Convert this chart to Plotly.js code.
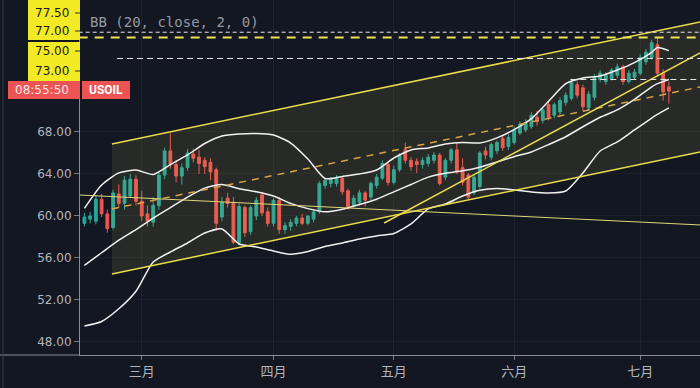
<!DOCTYPE html>
<html><head><meta charset="utf-8">
<script src="https://cdn.plot.ly/plotly-3.0.1.min.js"></script>
<style>html,body{margin:0;padding:0;background:#131722;}#chart{width:700px;height:388px;}</style>
</head><body><div id="chart"></div>
<script>
// ---- data ----
const open  = [59.3,59.7,59.5,61.6,60.2,58.9,62.1,61.2,61.9,63.5,61.4,60.2,59.4,61.0,63.9,66.2,64.9,63.8,64.6,65.9,
               65.6,65.3,65.1,64.4,59.9,61.7,61.3,57.5,60.8,58.5,60.0,62.0,60.4,59.3,61.5,58.7,59.0,59.3,59.8,59.3,
               59.7,60.4,62.9,63.1,63.1,63.6,62.4,61.0,61.3,62.2,61.8,62.9,63.6,64.9,63.2,64.4,66.3,65.3,65.2,64.9,
               65.0,65.3,65.8,63.7,65.3,66.3,64.6,63.9,62.2,62.8,66.2,65.6,66.2,67.4,66.6,67.0,67.9,68.2,68.5,69.4,
               69.1,70.6,69.6,69.9,70.8,71.2,72.5,72.2,70.3,71.3,73.0,72.8,73.1,73.4,74.2,72.8,73.2,73.6,74.7,75.1,
               76.3,73.6,72.3];
const high  = [60.3,60.4,62.0,62.1,60.6,62.5,63.0,63.8,64.0,63.9,62.4,61.0,61.8,64.2,66.5,67.9,65.3,65.0,66.4,66.4,
               66.3,65.6,65.5,64.6,61.8,62.2,61.8,61.2,61.0,61.0,61.8,62.3,60.8,61.7,61.8,59.4,59.7,60.0,60.2,60.1,
               60.6,63.3,63.6,63.7,63.9,63.8,62.6,62.0,62.5,62.4,63.3,64.0,65.3,65.1,64.8,66.0,67.0,65.6,65.5,65.6,
               65.9,66.1,66.0,65.5,66.5,67.0,65.5,64.1,64.0,66.2,66.6,67.0,67.2,67.6,67.8,68.5,69.0,69.2,69.9,70.0,
               70.3,71.0,70.8,71.3,71.8,72.9,72.8,72.5,71.9,73.5,73.9,73.7,74.1,74.5,74.4,73.9,74.0,75.4,75.9,76.8,
               77.0,74.0,72.8];
const low   = [59.0,59.3,59.2,59.9,58.4,58.7,60.8,60.6,61.7,61.0,59.5,59.0,59.0,60.6,63.5,64.5,63.2,63.0,64.3,65.1,
               64.0,64.0,63.4,58.6,59.5,60.8,57.3,57.2,58.0,58.2,59.6,60.0,59.0,59.0,58.3,58.3,58.6,59.0,59.1,59.1,
               59.4,60.2,62.6,62.7,62.8,62.0,60.6,60.8,61.0,60.9,61.5,62.6,63.4,62.9,63.0,64.2,65.0,64.3,64.1,64.5,
               64.7,65.0,62.9,63.4,65.0,64.0,62.9,61.6,62.0,62.6,65.4,65.3,65.9,66.2,66.3,66.8,67.7,68.0,68.3,68.6,
               68.8,69.1,69.3,69.6,70.5,71.0,71.2,70.0,70.0,71.0,72.7,72.5,72.9,73.1,72.5,72.6,73.0,73.4,74.4,74.9,
               73.3,71.0,70.7];
const close = [59.9,60.0,61.6,60.2,58.8,62.2,61.2,63.4,63.5,61.4,60.0,59.5,61.0,63.9,66.2,64.9,63.8,64.6,66.0,65.5,
               65.0,64.7,64.2,59.3,61.3,61.2,57.5,60.9,58.4,60.8,61.5,60.3,59.3,61.5,58.7,59.1,59.4,59.8,59.3,60.0,
               60.4,63.1,63.4,63.6,63.6,62.3,60.9,61.7,62.2,61.5,63.1,63.7,65.0,63.2,64.4,65.8,65.3,64.7,64.9,65.3,
               65.6,65.8,63.1,65.3,66.3,64.2,63.2,61.8,63.7,66.0,65.8,66.8,67.0,66.5,67.5,68.2,68.7,68.9,69.6,69.0,
               70.1,69.4,70.6,71.0,71.5,72.7,71.5,70.4,71.6,73.2,73.6,73.4,73.9,74.2,72.8,73.6,73.7,75.1,75.6,76.5,
               73.6,71.8,71.9];

const monthTickIdx = [10, 33, 54, 75, 97];
const monthLabels  = ['三月','四月','五月','六月','七月'];
const priceTicks   = [48, 52, 56, 60, 64, 68];

const bbIdx    = [0,3,6,9,12,15,18,21,24,27,30,33,36,39,42,45,48,51,54,57,60,63,66,69,72,75,78,81,84,87,90,93,96,99,100,102];
const bbUpper  = [60.72,62.95,64.10,64.38,63.95,64.89,65.81,66.90,67.62,67.81,67.86,67.71,66.95,65.43,63.57,63.77,64.00,64.38,
                  65.52,66.29,66.48,66.86,67.00,66.95,67.44,68.23,69.27,70.92,72.60,73.14,73.33,73.90,74.61,75.59,76.05,75.75];
const bbMiddle = [55.3,56.5,57.7,58.7,59.8,60.8,61.8,62.65,63.0,62.6,62.3,61.9,61.2,60.7,60.4,60.65,61.1,61.6,
                  62.3,63.0,63.7,64.07,64.3,64.65,65.15,65.65,66.1,66.8,67.55,68.5,69.4,70.1,71.1,72.3,72.6,73.0];
const bbLower  = [49.52,49.95,51.16,52.83,55.62,56.57,57.43,58.38,58.76,57.33,57.05,56.67,56.35,56.61,57.10,57.43,57.81,58.10,
                  58.33,59.24,60.67,61.14,61.9,62.45,62.62,62.48,62.29,62.19,62.38,64.10,66.19,67.05,68.19,69.33,69.67,70.29];

const channelX      = [4.8, 107.43];
const channelTop    = [66.86, 78.48];
const channelMid    = [60.67, 72.29];
const channelBottom = [54.48, 66.10];
const trendDownX = [-1, 108],    trendDownY = [62.0, 59.13];
const trendUpX   = [52.3, 107.43], trendUpY = [59.33, 75.52];

const levelPrices   = [77.5, 77.0, 75.0, 73.0];
const levelLabels   = ['77.50', '77.00', '75.00', '73.00'];
const levelStartIdx = [-1, -1, 5.7, 84.8];
const lastTime   = '08:55:50';
const symbolName = 'USOIL';
const indicatorName = 'BB (20, close, 2, 0)';

// ---- drawing ----
const barIdx = open.map((_, i) => i);
const X_END = 107.43;
const GREEN = '#26a69a', RED = '#ef5350', YEL = '#e9dc4c';

const traces = [];
traces.push({x:[channelX[0],channelX[1],channelX[1],channelX[0]], y:[channelTop[0],channelTop[1],channelBottom[1],channelBottom[0]],
  type:'scatter', mode:'lines', fill:'toself', fillcolor:'rgba(190,180,80,0.12)', line:{width:0}, hoverinfo:'skip'});
traces.push({type:'candlestick', x:barIdx, open:open, high:high, low:low, close:close, whiskerwidth:0,
  increasing:{line:{color:GREEN,width:1}, fillcolor:GREEN}, decreasing:{line:{color:RED,width:1}, fillcolor:RED}, hoverinfo:'skip'});
[bbUpper, bbMiddle, bbLower].forEach(b => traces.push({x:bbIdx, y:b, type:'scatter', mode:'lines',
  line:{color:'#f0f0f0', width:1.5, shape:'spline', smoothing:0.6}, hoverinfo:'skip'}));
traces.push({x:channelX, y:channelTop, type:'scatter', mode:'lines', line:{color:YEL, width:1.5}});
traces.push({x:channelX, y:channelBottom, type:'scatter', mode:'lines', line:{color:YEL, width:1.5}});
traces.push({x:channelX, y:channelMid, type:'scatter', mode:'lines', line:{color:'#d9a347', width:1.5, dash:'7px,6px'}});
traces.push({x:trendDownX, y:trendDownY, type:'scatter', mode:'lines', line:{color:'#e0d77a', width:1}});
traces.push({x:trendUpX, y:trendUpY, type:'scatter', mode:'lines', line:{color:YEL, width:1.5}});
const levelStyles = [{color:'#e8e8e8',width:1,dash:'4px,3px'},{color:'#ece25a',width:2,dash:'9px,7px'},
                     {color:'#e8e8e8',width:1,dash:'6px,4px'},{color:'#e8e8e8',width:1,dash:'6px,4px'}];
levelPrices.forEach((p, i) => traces.push({x:[levelStartIdx[i], X_END], y:[p, p], type:'scatter', mode:'lines', line:levelStyles[i]}));

const PW = 620, PH = 355;
const px = v => (v - 80) / PW;
const py = v => 1 - v / PH;
const shapes = [
  {type:'rect', xref:'paper', yref:'paper', x0:px(28), x1:px(80), y0:py(40), y1:py(0), fillcolor:'#f3ea26', line:{width:0}, layer:'above'},
  {type:'rect', xref:'paper', yref:'paper', x0:px(28), x1:px(80), y0:py(81), y1:py(42), fillcolor:'#f3ea26', line:{width:0}, layer:'above'},
  {type:'rect', xref:'paper', yref:'paper', x0:px(8), x1:px(80), y0:py(99), y1:py(81), fillcolor:'#ec5454', line:{width:0}, layer:'above'},
  {type:'rect', xref:'paper', yref:'paper', x0:px(82), x1:px(130), y0:py(99), y1:py(81), fillcolor:'#ec5454', line:{width:0}, layer:'above'},
  {type:'line', xref:'paper', yref:'paper', x0:px(0), x1:px(80), y0:0, y1:0, line:{color:'#8a8d96', width:1}},
  {type:'line', xref:'paper', yref:'paper', x0:px(3), x1:px(3), y0:py(388), y1:1, line:{color:'#3a3e4a', width:1}}
];
const labelY = [13, 31, 51, 71];
const annotations = levelLabels.map((t, i) => ({xref:'paper', yref:'paper', x:px(71), y:py(labelY[i]), xanchor:'right', yanchor:'middle',
  text:t, showarrow:false, font:{family:'DejaVu Sans', size:12, color:'#1a1a1a'}}));
labelY.forEach(v => shapes.push({type:'line', xref:'paper', yref:'paper', x0:px(75), x1:px(80), y0:py(v), y1:py(v), line:{color:'#333', width:1}, layer:'above'}));
annotations.push({xref:'paper', yref:'paper', x:px(71), y:py(90), xanchor:'right', yanchor:'middle', text:lastTime, showarrow:false,
  font:{family:'DejaVu Sans', size:12, color:'#fde4e4'}});
annotations.push({xref:'paper', yref:'paper', x:px(106), y:py(90), xanchor:'center', yanchor:'middle', text:'<b>'+symbolName+'</b>', showarrow:false,
  font:{family:'Roboto', size:12, color:'#ffffff'}});
annotations.push({xref:'paper', yref:'paper', x:px(88), y:py(22), xanchor:'left', yanchor:'middle', text:indicatorName, showarrow:false,
  font:{family:'DejaVu Sans Mono', size:14, color:'#9598a1'}});

const layout = {
  width:700, height:388, margin:{l:80, r:0, t:0, b:33},
  paper_bgcolor:'#131722', plot_bgcolor:'#131722', showlegend:false, hovermode:false,
  xaxis:{range:[-0.77, X_END], tickmode:'array', tickvals:monthTickIdx, ticktext:monthLabels, ticks:'outside', ticklen:4,
    tickcolor:'#787b86', showline:true, linecolor:'#8a8d96', linewidth:1, showgrid:true, gridcolor:'rgba(255,255,255,0.05)',
    zeroline:false, rangeslider:{visible:false}, tickfont:{family:'Noto Sans CJK SC', size:13, color:'#b2b5be'}},
  yaxis:{range:[46.76, 80.57], tickmode:'array', tickvals:priceTicks, ticktext:priceTicks.map(v => v.toFixed(2)), ticks:'outside',
    ticklen:5, tickcolor:'#787b86', showline:true, linecolor:'#8a8d96', linewidth:1, showgrid:true, gridcolor:'rgba(255,255,255,0.035)',
    zeroline:false, tickfont:{family:'DejaVu Sans', size:12, color:'#b2b5be'}},
  shapes:shapes, annotations:annotations
};
Plotly.newPlot('chart', traces, layout, {displayModeBar:false, staticPlot:true});
</script></body></html>
